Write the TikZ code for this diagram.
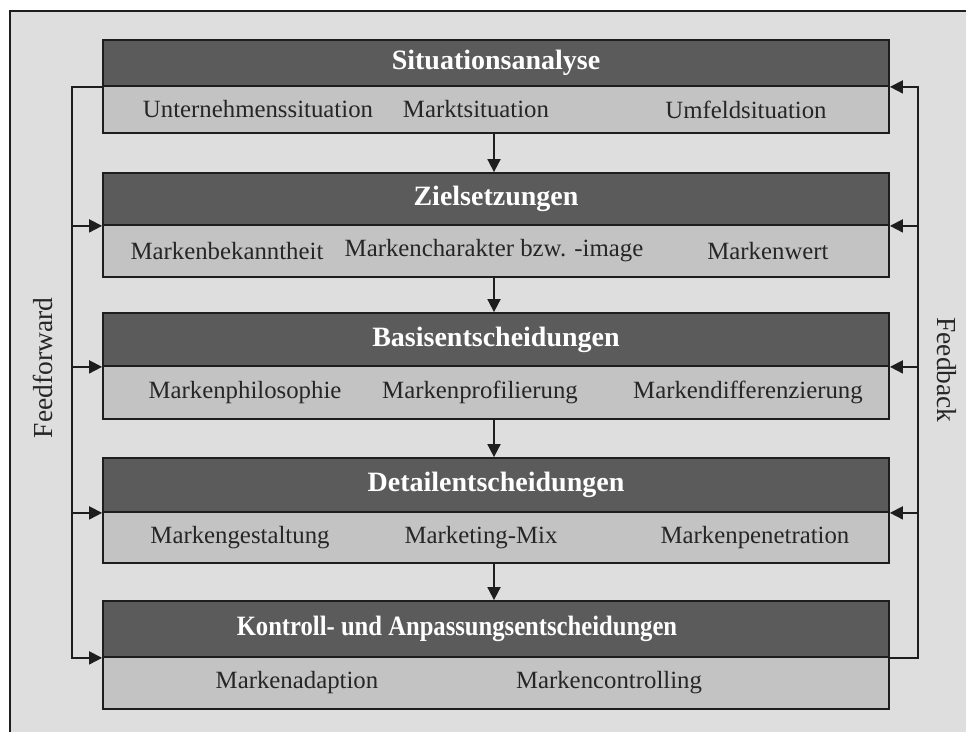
\documentclass[tikz,border=0pt]{standalone}
\usepackage{fontspec}
\setmainfont{Liberation Serif}
\usetikzlibrary{arrows.meta}
\definecolor{hdrgray}{HTML}{5B5B5B}
\definecolor{bodygray}{HTML}{C3C3C3}
\definecolor{bggray}{HTML}{DEDEDE}
\definecolor{linegray}{HTML}{1E1E1E}
\tikzset{
  hdr/.style={draw=linegray, line width=1.8pt, fill=hdrgray, minimum width=786pt,
    inner sep=0pt, text=white, font=\fontsize{28}{32}\selectfont\bfseries},
  body/.style={draw=linegray, line width=1.8pt, fill=bodygray, minimum width=786pt,
    inner sep=0pt},
  hdrtext/.style={inner sep=0pt, text=white, font=\fontsize{28}{32}\selectfont\bfseries},
  item/.style={inner sep=0pt, text=black!85, font=\fontsize{24.8}{28}\selectfont},
  side/.style={inner sep=0pt, text=black!85, font=\fontsize{27.5}{30}\selectfont},
  link/.style={draw=linegray, line width=1.8pt},
  arr/.style={link, -{Triangle[length=13pt,width=13pt]}},
}
\begin{document}
\begin{tikzpicture}[x=1pt,y=-1pt]
\useasboundingbox (0,0) rectangle (966,731);
% framed background, running off the right and lower edge
\begin{scope}
  \clip (0,0) rectangle (966,731);
  \draw[draw=linegray, line width=1.8pt, fill=bggray] (10,11) rectangle (990,760);
\end{scope}

% stage boxes: header band + body band
\node[hdr, minimum height=46pt] (h1) at (496,63) {Situationsanalyse};
\node[body, minimum height=47pt] (b1) at (496,109.5) {};
\node[hdr, minimum height=52pt] (h2) at (496,199) {Zielsetzungen};
\node[body, minimum height=52pt] (b2) at (496,251) {};
\node[hdr, minimum height=53pt] (h3) at (496,339.5) {Basisentscheidungen};
\node[body, minimum height=53pt] (b3) at (496,392.5) {};
\node[hdr, minimum height=54pt] (h4) at (496,485) {Detailentscheidungen};
\node[body, minimum height=51pt] (b4) at (496,537.5) {};
\node[hdr, minimum height=56pt] (h5) at (496,629) {};
\node[hdrtext] (t5) at (457,629) {\scalebox{0.88}[1]{Kontroll- und Anpassungsentscheidungen}};
\node[body, minimum height=52pt] (b5) at (496,683) {};

% items of each stage
\node[item] (i11) at (258,109.5) {Unternehmenssituation};
\node[item] (i12) at (476,109.5) {Marktsituation};
\node[item] (i13) at (746,109.5) {Umfeldsituation};
\node[item] (i21) at (227,251) {Markenbekanntheit};
\node[item] (i22) at (494,251) {Markencharakter bzw. -image};
\node[item] (i23) at (768,251) {Markenwert};
\node[item] (i31) at (245,392.5) {Markenphilosophie};
\node[item] (i32) at (480,392.5) {Markenprofilierung};
\node[item] (i33) at (748,392.5) {Markendifferenzierung};
\node[item] (i41) at (240,537.5) {Markengestaltung};
\node[item] (i42) at (481,537.5) {Marketing-Mix};
\node[item] (i43) at (755,537.5) {Markenpenetration};
\node[item] (i51) at (297,683) {Markenadaption};
\node[item] (i52) at (609,683) {Markencontrolling};

% side labels
\node[side, rotate=90] (ffl) at (43,368) {Feedforward};
\node[side, rotate=-90] (fbl) at (947,370) {Feedback};

% guide lines
\coordinate (ffx) at (72,0);
\coordinate (fbx) at (918,0);
\coordinate (dnx) at (494,0);

% flow between stages
\draw[arr] (b1.south -| dnx) -- (h2.north -| dnx);
\draw[arr] (b2.south -| dnx) -- (h3.north -| dnx);
\draw[arr] (b3.south -| dnx) -- (h4.north -| dnx);
\draw[arr] (b4.south -| dnx) -- (h5.north -| dnx);

% feedforward loop
\draw[arr] (h1.south west) -- (h1.south west -| ffx) |- (h5.south west);
\draw[arr] (h2.south west -| ffx) -- (h2.south west);
\draw[arr] (h3.south west -| ffx) -- (h3.south west);
\draw[arr] (h4.south west -| ffx) -- (h4.south west);

% feedback loop
\draw[arr] (h5.south east) -- (h5.south east -| fbx) |- (h1.south east);
\draw[arr] (h2.south east -| fbx) -- (h2.south east);
\draw[arr] (h3.south east -| fbx) -- (h3.south east);
\draw[arr] (h4.south east -| fbx) -- (h4.south east);
\end{tikzpicture}
\end{document}
